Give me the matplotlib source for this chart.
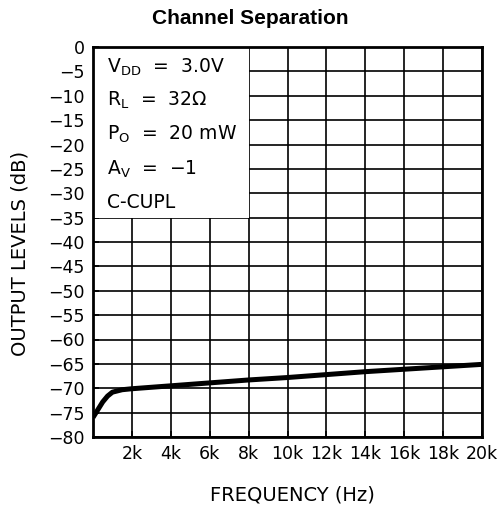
import matplotlib
matplotlib.use("Agg")
import matplotlib.pyplot as plt
from matplotlib.patches import Rectangle

# frequency (kHz) and channel separation (dB)
freq_khz = [0, 0.25, 0.5, 0.75, 1.0, 1.5, 2, 4, 6, 8, 10, 12, 14, 16, 18, 20]
level_db = [-76.0, -74.4, -72.8, -71.6, -70.8, -70.3, -70.1, -69.5, -68.9,
            -68.3, -67.8, -67.2, -66.6, -66.1, -65.6, -65.1]

x_ticks = [2, 4, 6, 8, 10, 12, 14, 16, 18, 20]
x_labels = ["2k", "4k", "6k", "8k", "10k", "12k", "14k", "16k", "18k", "20k"]
y_ticks = list(range(0, -85, -5))
y_labels = [str(v) for v in y_ticks]

notes = [r"V$_{\mathregular{DD}}$  =  3.0V",
         r"R$_{\mathregular{L}}$  =  32$\Omega$",
         r"P$_{\mathregular{O}}$  =  20 mW",
         r"A$_{\mathregular{V}}$  =  $-$1",
         "C-CUPL"]

plt.rcParams['font.family'] = ['DejaVu Sans']
plt.rcParams['mathtext.default'] = 'regular'

fig = plt.figure(figsize=(5.01, 5.20), dpi=100)
ax = fig.add_axes([93 / 501, 83 / 520, 389 / 501, 390 / 520])

ax.set_xlim(0, 20)
ax.set_ylim(-80, 0)

# grid drawn by hand so the note box can sit over it
for xv in x_ticks:
    ax.axvline(xv, color="black", lw=1.2, zorder=1)
for yv in y_ticks:
    ax.axhline(yv, color="black", lw=1.2, zorder=1)

ax.add_patch(Rectangle((0, -35), 8, 35, facecolor="white", edgecolor="none", zorder=2))

ax.plot(freq_khz, level_db, color="black", lw=3.6, solid_capstyle="butt", zorder=3)

ax.set_xticks(x_ticks)
ax.set_xticklabels(x_labels)
ax.set_yticks(y_ticks)
ax.set_yticklabels([s.replace("-", "\u2212") for s in y_labels])
ax.tick_params(direction="in", length=4, width=1.2, labelsize=12.5, pad=6, zorder=4)
for sp in ax.spines.values():
    sp.set_linewidth(2)
    sp.set_zorder(5)

line_y = [-4.2, -11.0, -18.0, -25.0, -32.0]
for txt, yv in zip(notes, line_y):
    ax.text(0.7, yv, txt, fontsize=13.5, va="center", ha="left", zorder=4)

fig.text(0.5, 1 - 19 / 520, "Channel Separation", ha="center", va="center",
         fontsize=15, fontweight="bold", family="Liberation Sans")
fig.text(20 / 501, 1 - 253 / 520, "OUTPUT LEVELS (dB)", rotation=90,
         ha="center", va="center", fontsize=14)
fig.text(292 / 501, 1 - 495 / 520, "FREQUENCY (Hz)", ha="center", va="center",
         fontsize=14)

fig.savefig("out.png", dpi=100)
